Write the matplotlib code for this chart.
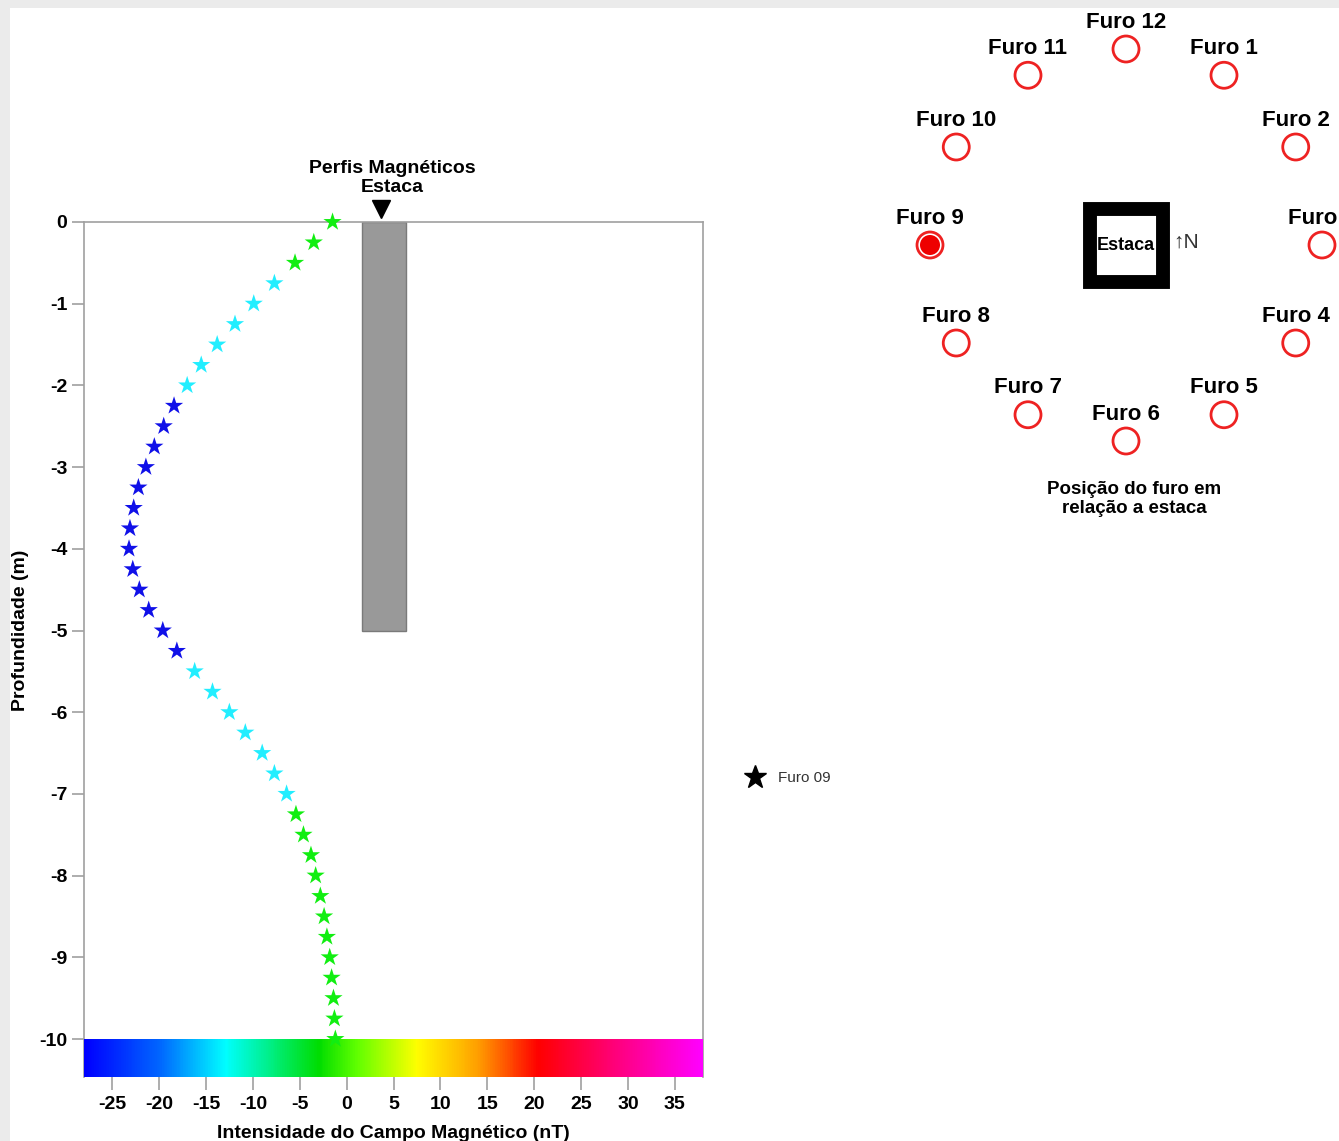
import numpy as np
import matplotlib
matplotlib.use("Agg")
import matplotlib.pyplot as plt
from matplotlib.colors import LinearSegmentedColormap
from matplotlib.lines import Line2D
from matplotlib.patches import Rectangle, Circle

# perfil magnetico do furo 09 (profundidade em m, campo em nT)
profundidade = [0, -0.25, -0.5, -0.75, -1, -1.25, -1.5, -1.75, -2, -2.25,
                -2.5, -2.75, -3, -3.25, -3.5, -3.75, -4, -4.25, -4.5, -4.75,
                -5, -5.25, -5.5, -5.75, -6, -6.25, -6.5, -6.75, -7, -7.25,
                -7.5, -7.75, -8, -8.25, -8.5, -8.75, -9, -9.25, -9.5, -9.75, -10]
campo = [-1.5, -3.5, -5.5, -7.7, -9.9, -11.9, -13.8, -15.5, -17.0, -18.4,
         -19.5, -20.5, -21.4, -22.2, -22.7, -23.1, -23.2, -22.8, -22.1, -21.1,
         -19.6, -18.1, -16.2, -14.3, -12.5, -10.8, -9.0, -7.7, -6.4, -5.4,
         -4.6, -3.8, -3.3, -2.8, -2.4, -2.1, -1.8, -1.6, -1.4, -1.3, -1.2]

estaca_x = (1.6, 6.3)      # largura da estaca no grafico
estaca_prof = -5.0         # comprimento da estaca

furos = ['Furo 12', 'Furo 1', 'Furo 2', 'Furo 3', 'Furo 4', 'Furo 5',
         'Furo 6', 'Furo 7', 'Furo 8', 'Furo 9', 'Furo 10', 'Furo 11']
furo_ativo = 'Furo 9'

xticks = [-25, -20, -15, -10, -5, 0, 5, 10, 15, 20, 25, 30, 35]
yticks = [0, -1, -2, -3, -4, -5, -6, -7, -8, -9, -10]

plt.rcParams['axes.unicode_minus'] = False

W, H = 1339, 1141
fonte = ['Liberation Sans', 'DejaVu Sans']

fig = plt.figure(figsize=(W / 100, H / 100), dpi=100)
fig.patch.set_facecolor('#ebebeb')
fig.patches.append(Rectangle((10 / W, 0), 1, 1 - 8 / H, transform=fig.transFigure,
                             facecolor='white', edgecolor='none', zorder=-10))

# escala de cores do campo
cmap = LinearSegmentedColormap.from_list('campo', [
    (0.0, '#0000ff'), (0.12, '#0066ff'), (15 / 66, '#00ffff'),
    (25 / 66, '#00dd00'), (0.44, '#60ff00'), (35.5 / 66, '#ffff00'),
    (42 / 66, '#ffa000'), (48.5 / 66, '#ff0000'), (55 / 66, '#ff0060'),
    (1.0, '#ff00ff')])

x0, x1 = -28, 38
y0, y1 = -10.465, 0

ax = fig.add_axes([84 / W, 1 - 1077 / H, 619 / W, 855 / H])
ax.set_xlim(x0, x1)
ax.set_ylim(y0, y1)

grad = np.linspace(x0, x1, 500).reshape(1, -1)
ax.imshow(grad, cmap=cmap, aspect='auto', extent=(x0, x1, y0, -10),
          zorder=3, interpolation='bilinear')

# estaca
ax.add_patch(Rectangle((estaca_x[0], estaca_prof), estaca_x[1] - estaca_x[0], -estaca_prof,
                       facecolor='#999999', edgecolor='#7a7a7a', lw=1, zorder=2))
ax.plot([(estaca_x[0] + estaca_x[1]) / 2 - 0.3], [0.16], marker='v', color='black',
        ms=13, clip_on=False, zorder=5)
ax.text(4.9, 0.54, 'Perfis Magnéticos\nEstaca', ha='center', va='center',
        fontsize=14, fontweight='bold', family=fonte, linespacing=1.2)

# cores dos pontos por faixa de intensidade
c = np.array(campo)
cores = np.where(c < -17.6, '#1010e8', np.where(c < -6.0, '#22eeff', '#11ee11'))
ax.scatter(campo, profundidade, marker='*', s=190, c=cores, linewidths=0,
           zorder=4, clip_on=False)

for s in ax.spines.values():
    s.set_color('#a0a0a0')
    s.set_linewidth(1.2)
ax.spines['bottom'].set_visible(False)

ax.set_xticks(xticks)
ax.set_yticks(yticks)
ax.tick_params(axis='both', colors='#a0a0a0', length=9, width=1.2, labelcolor='black')
ax.tick_params(axis='x', pad=5)
ax.tick_params(axis='y', pad=3)
for lab in ax.get_xticklabels() + ax.get_yticklabels():
    lab.set_fontsize(14)
    lab.set_fontweight('bold')
    lab.set_family(fonte)

ax.text(0.5, -0.066, 'Intensidade do Campo Magnético (nT)', transform=ax.transAxes,
        ha='center', va='center', fontsize=14, fontweight='bold', family=fonte)
ax.text(-0.103, 0.523, 'Profundidade (m)', transform=ax.transAxes, rotation=90,
        ha='center', va='center', fontsize=14, fontweight='bold', family=fonte)

fig.legend(handles=[Line2D([], [], marker='*', color='black', ls='none', ms=17)],
           labels=['Furo 09'], loc='center left', frameon=False,
           bbox_to_anchor=(726 / W, 1 - 778 / H), prop={'size': 11, 'family': fonte},
           labelcolor='#333333', handletextpad=0.5)

# croqui da posicao dos furos em torno da estaca
ov = fig.add_axes([0, 0, 1, 1])
ov.set_xlim(0, W)
ov.set_ylim(H, 0)
ov.axis('off')
ov.patch.set_alpha(0)

cx, cy, raio = 1126, 245, 196
for i, nome in enumerate(furos):
    ang = np.deg2rad(30 * i)
    px = cx + raio * np.sin(ang)
    py = cy - raio * np.cos(ang)
    ativo = nome == furo_ativo
    ov.add_patch(Circle((px, py), 13, facecolor='white', edgecolor='#ee2222', lw=2))
    if ativo:
        ov.add_patch(Circle((px, py), 10, facecolor='#ee0000', edgecolor='none'))
    ov.text(px, py - 27, nome, ha='center', va='center', fontsize=16,
            fontweight='bold', family=fonte)

ov.add_patch(Rectangle((1090, 209), 73, 73, facecolor='white', edgecolor='black', lw=10))
ov.text(1126, 246, 'Estaca', ha='center', va='center', fontsize=13,
        fontweight='bold', family=fonte)
ov.text(1186, 242, '↑N', ha='center', va='center', fontsize=15, color='#333333',
        family=fonte)
ov.text(1134, 499, 'Posição do furo em\nrelação a estaca', ha='center', va='center',
        fontsize=13.5, fontweight='bold', family=fonte, linespacing=1.1)

fig.savefig('out.png', dpi=100, facecolor=fig.get_facecolor())
